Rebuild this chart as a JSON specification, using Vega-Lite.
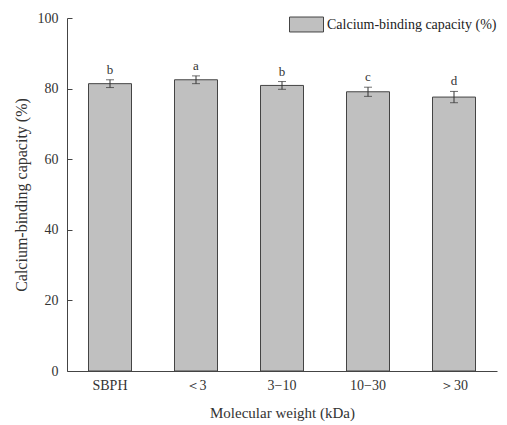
{
  "$schema": "https://vega.github.io/schema/vega-lite/v6.json",
  "autosize": "none",
  "padding": {"left": 67, "top": 18, "right": 10, "bottom": 54},
  "width": 430,
  "height": 353,
  "background": "white",
  "config": {
    "view": {"stroke": null},
    "font": "Liberation Serif",
    "axis": {
      "labelFont": "Liberation Serif",
      "titleFont": "Liberation Serif",
      "labelFontSize": 14,
      "titleFontSize": 15,
      "labelColor": "#333333",
      "titleColor": "#333333",
      "titleFontWeight": "normal",
      "domainColor": "#444444",
      "tickColor": "#444444",
      "grid": false
    },
    "legend": {"labelFont": "Liberation Serif"},
    "text": {"font": "Liberation Serif"}
  },
  "data": {
    "values": [
      {"mw": "SBPH", "value": 81.4, "err": 1.1, "upper": 82.5, "letter": "b"},
      {"mw": "＜3", "value": 82.5, "err": 1.1, "upper": 83.6, "letter": "a"},
      {"mw": "3−10", "value": 80.9, "err": 1.1, "upper": 82.0, "letter": "b"},
      {"mw": "10−30", "value": 79.1, "err": 1.3, "upper": 80.4, "letter": "c"},
      {"mw": "＞30", "value": 77.6, "err": 1.6, "upper": 79.2, "letter": "d"}
    ]
  },
  "encoding": {
    "x": {
      "field": "mw",
      "type": "nominal",
      "sort": null,
      "scale": {"paddingInner": 0.5, "paddingOuter": 0.25},
      "axis": {
        "title": "Molecular weight (kDa)",
        "labelAngle": 0,
        "ticks": false,
        "labelPadding": 7,
        "titlePadding": 13
      }
    }
  },
  "layer": [
    {
      "mark": {"type": "bar", "stroke": "#444444", "strokeWidth": 1},
      "encoding": {
        "y": {
          "field": "value",
          "type": "quantitative",
          "title": "Calcium-binding capacity (%)",
          "scale": {"domain": [0, 100]},
          "axis": {
            "values": [0, 20, 40, 60, 80, 100],
            "tickSize": -5,
            "labelPadding": 14,
            "titlePadding": 8,
            "titleFontSize": 16
          }
        },
        "fill": {
          "datum": "Calcium-binding capacity (%)",
          "type": "nominal",
          "scale": {"range": ["#c0c0c0"]},
          "legend": {
            "title": null,
            "orient": "none",
            "legendX": 222,
            "legendY": -11,
            "symbolType": "M-1,-0.44H1V0.44H-1Z",
            "symbolSize": 1156,
            "symbolStrokeColor": "#444444",
            "symbolStrokeWidth": 1,
            "symbolOpacity": 1,
            "labelFont": "Liberation Serif",
            "labelFontSize": 14,
            "labelLimit": 400,
            "labelColor": "#222222",
            "labelOffset": 3
          }
        }
      }
    },
    {
      "mark": {"type": "errorbar", "ticks": {"size": 8, "color": "#333333"}, "rule": {"color": "#333333"}},
      "encoding": {
        "y": {"field": "value", "type": "quantitative", "title": "Calcium-binding capacity (%)"},
        "yError": {"field": "err"}
      }
    },
    {
      "mark": {"type": "text", "dy": -10, "fontSize": 13, "font": "Liberation Serif", "color": "#333333"},
      "encoding": {
        "y": {"field": "upper", "type": "quantitative", "title": "Calcium-binding capacity (%)"},
        "text": {"field": "letter"}
      }
    }
  ]
}
